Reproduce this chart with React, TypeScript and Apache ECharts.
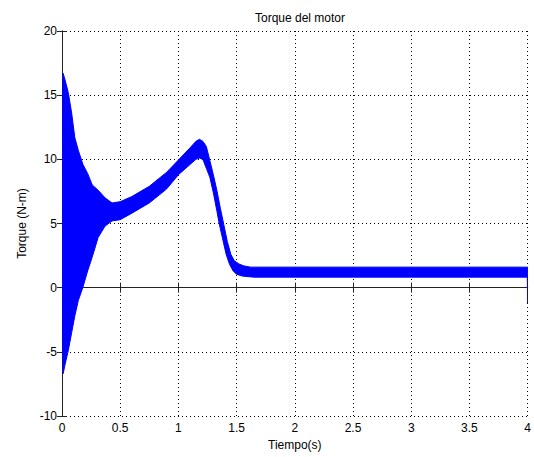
import React, { useEffect, useRef } from "react";
import * as echarts from "echarts";

// Upper envelope of the torque oscillation band (time in s, torque in N-m)
const upperTime = [0, 0.01, 0.026, 0.054, 0.083, 0.11, 0.14, 0.18, 0.22, 0.26, 0.31, 0.37, 0.43, 0.5, 0.6, 0.75, 0.9, 1.0, 1.1, 1.15, 1.18, 1.21, 1.24, 1.27, 1.3, 1.33, 1.36, 1.39, 1.42, 1.45, 1.48, 1.52, 1.56, 1.62, 4.0];
const upperTorque = [13.5, 16.7, 16.2, 15.2, 13.6, 11.7, 10.7, 9.6, 8.9, 8.0, 7.6, 7.0, 6.6, 6.7, 7.1, 7.9, 9.0, 9.95, 10.9, 11.4, 11.56, 11.4, 11.0, 9.9, 8.8, 7.6, 6.2, 4.9, 3.6, 2.6, 2.1, 1.85, 1.7, 1.6, 1.6];

// Lower envelope of the torque oscillation band
const lowerTime = [0, 0.01, 0.026, 0.054, 0.083, 0.11, 0.14, 0.18, 0.22, 0.26, 0.31, 0.37, 0.43, 0.5, 0.6, 0.75, 0.9, 1.0, 1.1, 1.15, 1.18, 1.21, 1.24, 1.27, 1.3, 1.33, 1.35, 1.38, 1.41, 1.44, 1.47, 1.5, 1.55, 1.65, 3.997, 4.0];
const lowerTorque = [-3, -6.7, -6.0, -4.9, -3.5, -2.2, -1.0, 0.05, 1.3, 2.4, 3.9, 4.8, 5.2, 5.3, 5.8, 6.6, 7.7, 8.8, 9.6, 10.0, 10.1, 10.0, 9.3, 8.6, 7.4, 6.0, 5.0, 3.8, 2.6, 1.8, 1.3, 1.05, 0.9, 0.82, 0.82, -1.2];

const xMin = 0;
const xMax = 4;
const xStep = 0.5;
const yMin = -10;
const yMax = 20;
const yStep = 5;

const FONT = "'Liberation Sans', Arial, sans-serif";

export default function App() {
  const ref = useRef<HTMLDivElement>(null);

  useEffect(() => {
    if (!ref.current) return;
    const chart = echarts.init(ref.current, undefined, { renderer: "svg" });
    const axisLine = { show: true, lineStyle: { color: "#222", width: 1 } };
    const tickIn = { show: true, inside: true, length: 5, lineStyle: { color: "#222" } };
    const grid = { show: true, lineStyle: { color: "#000", type: [1, 3], width: 1 } };
    chart.setOption({
      animation: false,
      backgroundColor: "#fff",
      title: {
        text: "Torque del motor",
        left: 295,
        top: 7,
        textAlign: "center",
        textStyle: { fontFamily: FONT, fontSize: 12, fontWeight: "normal", color: "#000" },
      },
      grid: { left: 62, right: 5, top: 31, bottom: 41, containLabel: false },
      xAxis: [
        {
          type: "value",
          min: xMin,
          max: xMax,
          interval: xStep,
          position: "bottom",
          axisLine,
          axisTick: tickIn,
          splitLine: grid,
          axisLabel: { margin: 6, color: "#000", fontFamily: FONT, fontSize: 12 },
          name: "Tiempo(s)",
          nameLocation: "middle",
          nameGap: 21,
          nameTextStyle: { color: "#000", fontFamily: FONT, fontSize: 12 },
        },
        {
          type: "value",
          min: xMin,
          max: xMax,
          interval: xStep,
          position: "top",
          axisLine,
          axisTick: tickIn,
          splitLine: { show: false },
          axisLabel: { show: false },
        },
      ],
      yAxis: [
        {
          type: "value",
          min: yMin,
          max: yMax,
          interval: yStep,
          position: "left",
          axisLine,
          axisTick: tickIn,
          splitLine: grid,
          axisLabel: { margin: 5, color: "#000", fontFamily: FONT, fontSize: 12 },
          name: "Torque (N-m)",
          nameLocation: "middle",
          nameGap: 34,
          nameTextStyle: { color: "#000", fontFamily: FONT, fontSize: 12 },
        },
        {
          type: "value",
          min: yMin,
          max: yMax,
          interval: yStep,
          position: "right",
          axisLine,
          axisTick: tickIn,
          splitLine: { show: false },
          axisLabel: { show: false },
        },
      ],
      series: [
        {
          type: "custom",
          xAxisIndex: 0,
          yAxisIndex: 0,
          data: [[0, 0]],
          clip: true,
          renderItem: (_params: any, api: any) => {
            const pts: number[][] = [];
            for (let i = 0; i < upperTime.length; i++) {
              pts.push(api.coord([upperTime[i], upperTorque[i]]));
            }
            for (let i = lowerTime.length - 1; i >= 0; i--) {
              pts.push(api.coord([lowerTime[i], lowerTorque[i]]));
            }
            return {
              type: "polygon",
              shape: { points: pts },
              style: { fill: "#0000ff", stroke: "#0000ff", lineWidth: 1 },
            };
          },
        },
      ],
    });
    return () => chart.dispose();
  }, []);

  return (
    <div
      ref={ref}
      style={{ position: "fixed", left: 0, top: 0, width: 534, height: 457 }}
    />
  );
}
